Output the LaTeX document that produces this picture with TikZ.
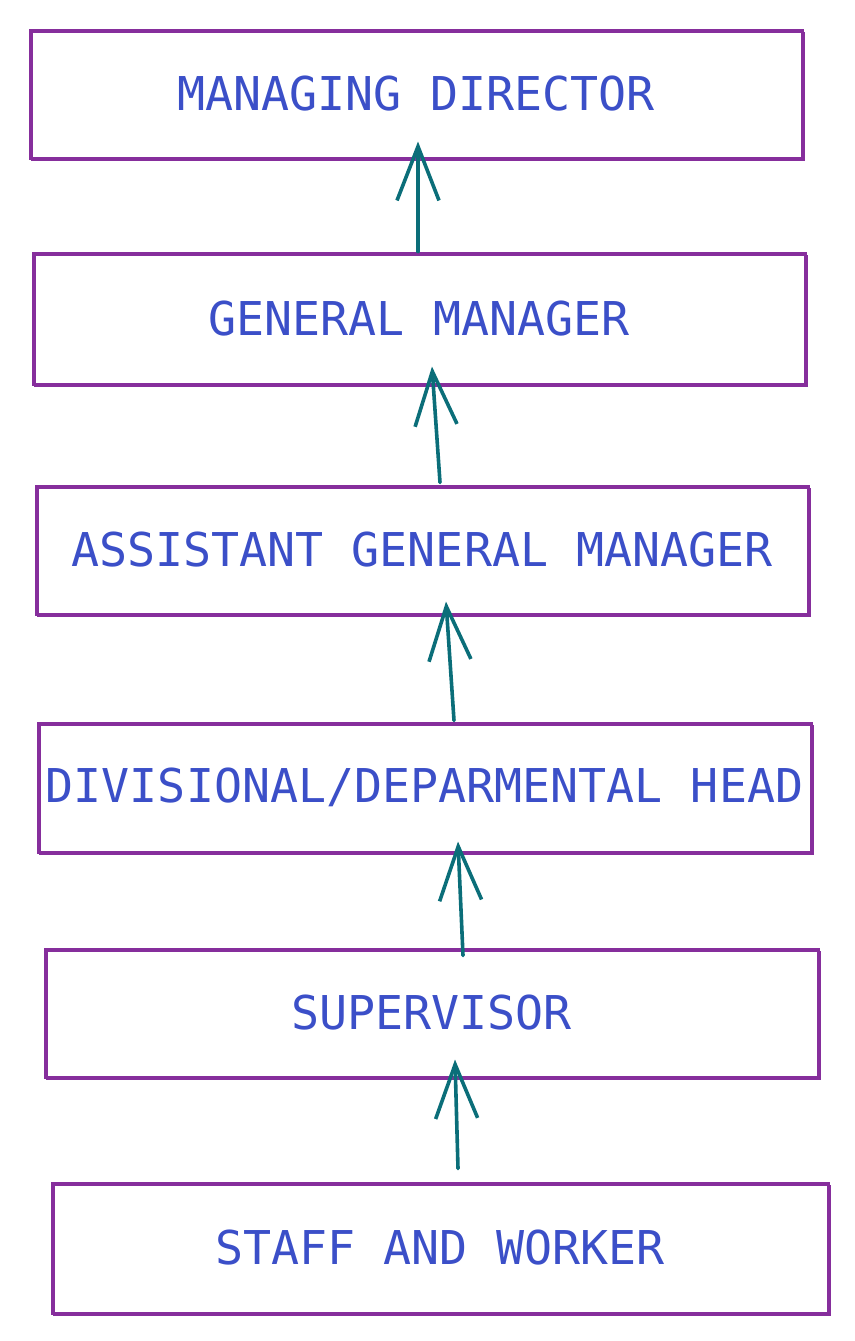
\documentclass[tikz,border=0pt]{standalone}
\usepackage{fontspec}
\setmonofont{DejaVu Sans Mono}
\usepackage{xcolor}
\usetikzlibrary{arrows.meta}
\definecolor{boxc}{HTML}{862E9C}
\definecolor{textc}{HTML}{3B4FC8}
\definecolor{arrc}{HTML}{0B6E79}
\tikzset{
  post/.style={draw=boxc, line width=3pt, minimum width=772pt, minimum height=128pt,
    inner sep=0pt, text=textc, font=\ttfamily\fontsize{46.6}{50}\selectfont,
    postaction={draw=boxc, line width=1.6pt, transform canvas={xshift=2pt, yshift=-2.5pt}}},
  link/.style={arrc, line width=3.6pt, line cap=round, ->}
}

\begin{document}
\begin{tikzpicture}[x=1pt, y=1pt, >={Straight Barb[length=54pt, width=42pt]}]
\useasboundingbox (0,0) rectangle (854,-1341);
% блоки
\node [post] (md) at (416,-94) {MANAGING DIRECTOR};
\node [post, minimum height=131pt] (gm) at (419,-318.5) {GENERAL MANAGER};
\node [post] (agm) at (422,-550) {ASSISTANT GENERAL MANAGER};
\node [post, minimum width=773pt, minimum height=129pt] (dh) at (424.5,-787.5) {DIVISIONAL/DEPARMENTAL HEAD};
\node [post, minimum width=773pt] (sv) at (431.5,-1013) {SUPERVISOR};
\node [post, minimum width=776pt, minimum height=130pt] (sw) at (440,-1248) {STAFF AND WORKER};
% стрелки
\draw [link] ([xshift=-1pt]gm.north) -- ([xshift=2pt, yshift=18pt]md.south);
\draw [link] ([xshift=18pt, yshift=2pt]agm.north) -- ([xshift=13pt, yshift=19pt]gm.south);
\draw [link] ([xshift=29.5pt, yshift=1pt]dh.north) -- ([xshift=24pt, yshift=14pt]agm.south);
\draw [link] ([xshift=31.5pt, yshift=-8pt]sv.north) -- ([xshift=33.5pt, yshift=12pt]dh.south);
\draw [link] ([xshift=18pt, yshift=13pt]sw.north) -- ([xshift=23.5pt, yshift=19pt]sv.south);
\end{tikzpicture}
\end{document}
